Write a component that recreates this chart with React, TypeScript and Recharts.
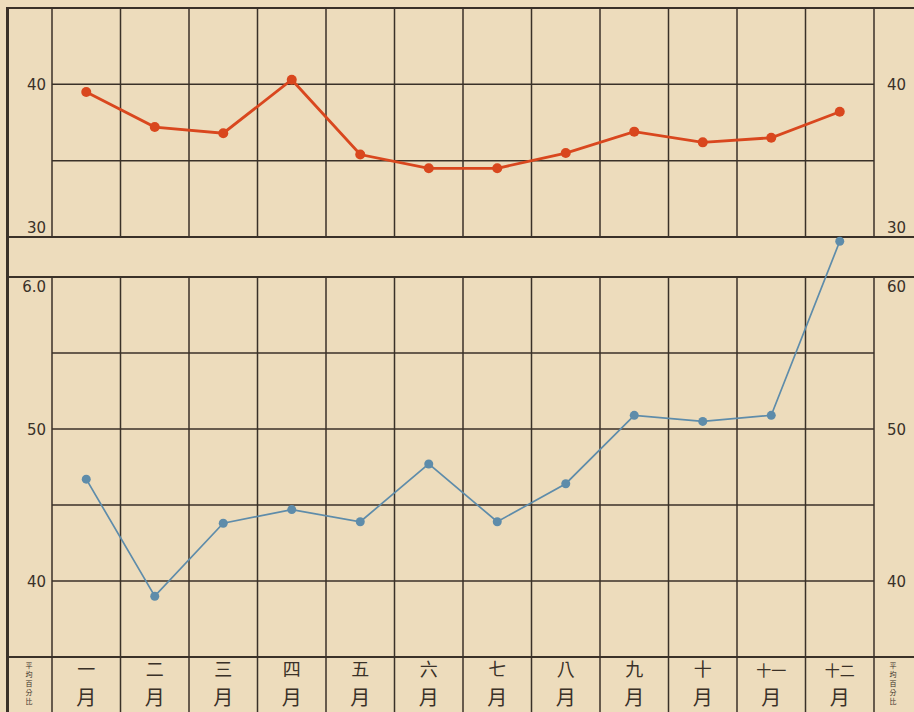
import React from 'react';
import { LineChart, Line, XAxis, YAxis, CartesianGrid, ReferenceLine } from 'recharts';

// ---- data ----
const monthIndex = [1, 2, 3, 4, 5, 6, 7, 8, 9, 10, 11, 12];
const monthNumerals = ['一', '二', '三', '四', '五', '六', '七', '八', '九', '十', '十一', '十二'];
const monthSuffix = '月';
const redValues = [39.5, 37.2, 36.8, 40.3, 35.4, 34.5, 34.5, 35.5, 36.9, 36.2, 36.5, 38.2];
const blueValues = [46.7, 39.0, 43.8, 44.7, 43.9, 47.7, 43.9, 46.4, 50.9, 50.5, 50.9, 62.35];
const topTicks = [30, 40];
const topLeftLabels: Record<number, string> = { 30: '30', 40: '40' };
const topRightLabels: Record<number, string> = { 30: '30', 40: '40' };
const bottomTicks = [40, 50, 60];
const bottomLeftLabels: Record<number, string> = { 40: '40', 50: '50', 60: '6.0' };
const bottomRightLabels: Record<number, string> = { 40: '40', 50: '50', 60: '60' };
const topGridValues = [30, 35, 40, 45];
const bottomGridValues = [40, 45, 50, 55];
const columnBoundaries = [0.5, 1.5, 2.5, 3.5, 4.5, 5.5, 6.5, 7.5, 8.5, 9.5, 10.5, 11.5, 12.5];
const unitLabel = '平均百分比';

const topData = monthIndex.map((m, i) => ({ m, v: redValues[i] }));
const bottomData = monthIndex.map((m, i) => ({ m, v: blueValues[i] }));

// ---- style ----
const PAPER = '#eddcbc';
const INK = '#3a3128';
const RED = '#d9471e';
const BLUE = '#5e8caa';
const NUM_FONT = '"DejaVu Sans", sans-serif';
const CJK_FONT = '"Noto Sans CJK TC", "Noto Sans CJK SC", sans-serif';

// bottom panel scale: 60 -> top of lower grid, 35 -> label row top
const PX_PER_UNIT = 380 / 25;
const BOTTOM_DOMAIN_TOP = 60 + 40 / PX_PER_UNIT;
const LABEL_ROW_BOTTOM = 35 - 55 / PX_PER_UNIT;

const makeYTick = (labels: Record<number, string>, side: 'left' | 'right') => (props: any) => {
  const { x, y, payload } = props;
  const v = payload.value as number;
  const dy = v === 30 ? -9 : v === 60 ? 10 : 1;
  return (
    <text
      x={x}
      y={y + dy}
      dominantBaseline="central"
      textAnchor={side === 'left' ? 'end' : 'start'}
      fontFamily={NUM_FONT}
      fontSize={15}
      fill={INK}
    >
      {labels[v]}
    </text>
  );
};

const MonthTick = (props: any) => {
  const { x, y, payload } = props;
  const num = monthNumerals[(payload.value as number) - 1];
  const long = num.length > 1;
  return (
    <g>
      <text
        x={x}
        y={y + 19}
        textAnchor="middle"
        fontFamily={CJK_FONT}
        fontSize={long ? 15 : 18}
        fill={INK}
      >
        {num}
      </text>
      <text x={x} y={y + 48} textAnchor="middle" fontFamily={CJK_FONT} fontSize={20} fill={INK}>
        {monthSuffix}
      </text>
    </g>
  );
};

const hLine = (top: number, h = 2): React.CSSProperties => ({
  position: 'absolute',
  left: 6,
  top,
  width: 908,
  height: h,
  background: INK,
});

const unitStyle = (left: number): React.CSSProperties => ({
  position: 'absolute',
  left,
  top: 662,
  height: 46,
  fontFamily: CJK_FONT,
  fontSize: 7,
  lineHeight: '10px',
  letterSpacing: '2px',
  writingMode: 'vertical-rl',
  color: INK,
});

export default function App() {
  return (
    <div
      style={{
        position: 'absolute',
        left: 0,
        top: 0,
        width: 914,
        height: 712,
        background: PAPER,
        overflow: 'hidden',
      }}
    >
      {/* frame */}
      <div style={{ position: 'absolute', left: 6, top: 7, width: 3, height: 705, background: INK }} />
      <div style={hLine(7)} />
      <div style={hLine(236)} />
      <div style={hLine(276)} />
      <div style={hLine(656)} />
      <div style={unitStyle(24)}>{unitLabel}</div>
      <div style={unitStyle(888)}>{unitLabel}</div>

      {/* upper panel */}
      <div style={{ position: 'absolute', left: 0, top: 0 }}>
        <LineChart width={914} height={245} data={topData} margin={{ top: 8, right: 0, bottom: 8, left: 7 }}>
          <CartesianGrid
            yAxisId="l"
            stroke={INK}
            strokeWidth={1.5}
            horizontalValues={topGridValues}
            verticalValues={columnBoundaries}
          />
          <XAxis dataKey="m" type="number" domain={[0.5, 12.5]} hide />
          <YAxis
            yAxisId="l"
            orientation="left"
            width={45}
            domain={[30, 45]}
            ticks={topTicks}
            interval={0}
            axisLine={false}
            tickLine={false}
            tickSize={0}
            tickMargin={6}
            tick={makeYTick(topLeftLabels, 'left')}
          />
          <YAxis
            yAxisId="r"
            orientation="right"
            width={40}
            domain={[30, 45]}
            allowDataOverflow
            ticks={topTicks}
            interval={0}
            axisLine={false}
            tickLine={false}
            tickSize={0}
            tickMargin={13}
            tick={makeYTick(topRightLabels, 'right')}
          />
          <Line
            yAxisId="l"
            dataKey="v"
            stroke={RED}
            strokeWidth={2.8}
            dot={{ r: 5, fill: RED, stroke: RED, strokeWidth: 0 }}
            isAnimationActive={false}
          />
        </LineChart>
      </div>

      {/* lower panel */}
      <div style={{ position: 'absolute', left: 0, top: 0 }}>
        <LineChart width={914} height={712} data={bottomData} margin={{ top: 237, right: 0, bottom: 0, left: 7 }}>
          <CartesianGrid
            yAxisId="l"
            stroke={INK}
            strokeWidth={1.5}
            vertical={false}
            horizontalValues={bottomGridValues}
          />
          {columnBoundaries.map((b) => (
            <ReferenceLine
              key={b}
              yAxisId="l"
              segment={[
                { x: b, y: LABEL_ROW_BOTTOM },
                { x: b, y: 60 },
              ]}
              stroke={INK}
              strokeWidth={1.5}
              ifOverflow="visible"
            />
          ))}
          <XAxis
            dataKey="m"
            type="number"
            domain={[0.5, 12.5]}
            ticks={monthIndex}
            height={55}
            axisLine={false}
            tickLine={false}
            tickSize={0}
            tickMargin={0}
            interval={0}
            tick={<MonthTick />}
          />
          <YAxis
            yAxisId="l"
            orientation="left"
            width={45}
            domain={[35, BOTTOM_DOMAIN_TOP]}
            ticks={bottomTicks}
            interval={0}
            axisLine={false}
            tickLine={false}
            tickSize={0}
            tickMargin={6}
            tick={makeYTick(bottomLeftLabels, 'left')}
          />
          <YAxis
            yAxisId="r"
            orientation="right"
            width={40}
            domain={[35, BOTTOM_DOMAIN_TOP]}
            allowDataOverflow
            ticks={bottomTicks}
            interval={0}
            axisLine={false}
            tickLine={false}
            tickSize={0}
            tickMargin={13}
            tick={makeYTick(bottomRightLabels, 'right')}
          />
          <Line
            yAxisId="l"
            dataKey="v"
            stroke={BLUE}
            strokeWidth={1.7}
            dot={{ r: 4.5, fill: BLUE, stroke: BLUE, strokeWidth: 0 }}
            isAnimationActive={false}
          />
        </LineChart>
      </div>
    </div>
  );
}
